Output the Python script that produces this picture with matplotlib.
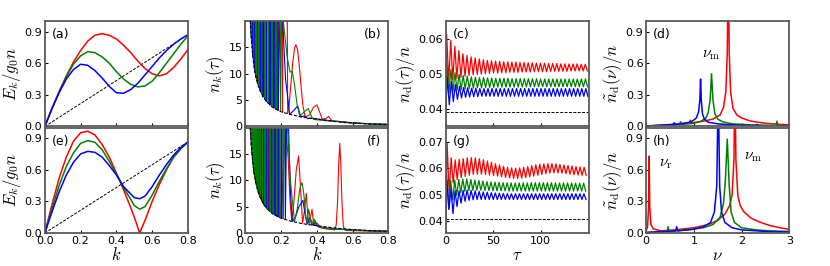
import numpy as np
import matplotlib
matplotlib.use('Agg')
import matplotlib.pyplot as plt
import matplotlib as mpl

mpl.rcParams['mathtext.fontset'] = 'cm'
mpl.rcParams['xtick.direction'] = 'in'
mpl.rcParams['ytick.direction'] = 'in'

# ---------------- (a) / (e): dispersion E_k / g0 n ----------------
k_a = [0, .04, .08, .12, .16, .20, .24, .28, .32, .36, .40, .44, .48, .52, .56, .60, .64, .68, .72, .76, .80]
Ea_red = [0, .17, .33, .48, .61, .72, .81, .865, .88, .865, .83, .77, .70, .62, .55, .50, .48, .50, .56, .64, .73]
Ea_green = [0, .17, .33, .47, .59, .67, .71, .70, .66, .60, .52, .45, .40, .375, .385, .43, .51, .60, .69, .78, .86]
Ea_blue = [0, .17, .32, .45, .54, .59, .58, .53, .46, .38, .32, .315, .35, .41, .49, .57, .65, .72, .78, .83, .87]
free_a = [0, 0.87]

k_e = [0, .04, .08, .12, .16, .20, .24, .28, .32, .36, .40, .44, .48, .50, .53, .56, .60, .64, .68, .72, .76, .80]
Ee_red = [0, .27, .52, .72, .87, .95, .965, .93, .84, .72, .57, .41, .24, .15, 0.0, .12, .30, .46, .60, .72, .80, .864]
Ee_green = [0, .23, .45, .63, .76, .85, .876, .86, .79, .68, .56, .43, .32, .26, .226, .25, .36, .49, .61, .72, .80, .864]
Ee_blue = [0, .20, .39, .55, .67, .75, .774, .765, .72, .64, .55, .44, .37, .335, .325, .35, .44, .55, .65, .74, .81, .864]
free_e = [0, 0.864]
k_free = [0, 0.8]

# ---------------- (b) / (f): momentum distribution n_k(tau) ----------------
k_dash = [0.025, 0.03, 0.035, 0.04, 0.05, 0.06, 0.07, 0.08, 0.1, 0.12, 0.15, 0.2, 0.25, 0.3, 0.35, 0.4, 0.5, 0.6, 0.7, 0.8]
n_dash = [22, 18.7, 16, 14, 11.2, 9.3, 8.0, 7.0, 5.6, 4.7, 3.7, 2.8, 2.3, 1.9, 1.6, 1.4, 0.95, 0.65, 0.45, 0.35]

kb_blue = [0.025, 0.03, 0.036, 0.042, 0.0485, 0.055, 0.062, 0.069, 0.0765, 0.084, 0.092, 0.1, 0.109, 0.118,
           0.128, 0.138, 0.149, 0.16, 0.172, 0.184, 0.196, 0.209, 0.225, 0.248, 0.27, 0.293, 0.31, 0.33,
           0.35, 0.37, 0.4, 0.45, 0.5, 0.6, 0.7, 0.8]
nb_blue = [150, 18.7, 150, 13.3, 150, 10.2, 150, 8.1, 150, 6.7, 150, 5.6, 150, 4.75,
           150, 4.05, 150, 3.5, 150, 3.05, 26, 20, 9, 2.3, 3.0, 3.9, 1.8, 2.0,
           1.5, 1.6, 1.45, 1.2, 1.0, 0.7, 0.5, 0.4]
kb_green = [0.027, 0.033, 0.0395, 0.046, 0.053, 0.06, 0.0675, 0.075, 0.083, 0.091, 0.1, 0.109, 0.1185, 0.128,
            0.1385, 0.149, 0.1605, 0.172, 0.1845, 0.197, 0.205, 0.212, 0.235, 0.25, 0.262, 0.275, 0.29, 0.305,
            0.33, 0.352, 0.375, 0.39, 0.41, 0.45, 0.5, 0.6, 0.7, 0.8]
nb_green = [150, 17, 150, 12.2, 150, 9.3, 150, 7.5, 150, 6.15, 150, 5.15, 150, 4.4,
            150, 3.8, 150, 3.25, 150, 2.85, 26, 20, 13, 10.3, 10.5, 8, 4, 1.9,
            2.8, 3.4, 1.5, 1.3, 1.25, 1.1, 1.0, 0.7, 0.5, 0.4]
kb_red = [0.03, 0.036, 0.043, 0.05, 0.0575, 0.065, 0.073, 0.081, 0.0895, 0.098, 0.1075, 0.117, 0.127, 0.137,
          0.148, 0.159, 0.171, 0.183, 0.1955, 0.208, 0.222, 0.237, 0.245, 0.255, 0.265, 0.275, 0.283, 0.292,
          0.302, 0.312, 0.322, 0.335, 0.36, 0.38, 0.40, 0.415, 0.43, 0.45, 0.466, 0.48, 0.5, 0.52, 0.55,
          0.6, 0.7, 0.8]
nb_red = [150, 15.6, 150, 11.2, 150, 8.6, 150, 6.9, 150, 5.7, 150, 4.8, 150, 4.1,
          150, 3.5, 150, 3.05, 150, 2.7, 120, 2.45, 4, 8, 12, 14.8, 15.5, 14.6,
          11.5, 7.5, 4, 1.8, 2.2, 3.6, 4.1, 2.8, 1.4, 1.5, 1.9, 1.2, 0.95, 1.0, 0.75,
          0.65, 0.48, 0.38]

kf_blue = [0.022, 0.027, 0.0305, 0.034, 0.038, 0.042, 0.046, 0.05, 0.0545, 0.059, 0.064, 0.069, 0.0745, 0.08,
           0.086, 0.092, 0.0985, 0.105, 0.112, 0.119, 0.1265, 0.134, 0.142, 0.15, 0.1585, 0.167, 0.176, 0.185,
           0.1945, 0.204, 0.214, 0.224, 0.234, 0.242, 0.252, 0.263, 0.28, 0.3, 0.322, 0.335, 0.345, 0.362,
           0.375, 0.395, 0.41, 0.45, 0.5, 0.6, 0.7, 0.8]
nf_blue = [150, 20.5, 150, 16.5, 150, 13.3, 150, 11.2, 150, 9.5, 150, 8.1, 150, 7.0,
           150, 6.1, 150, 5.3, 150, 4.7, 150, 4.2, 150, 3.75, 150, 3.35, 150, 3.05,
           150, 2.8, 150, 2.6, 30, 20, 8, 2.2, 3.0, 5.0, 6.2, 3.5, 1.7, 3.0,
           1.5, 1.9, 1.2, 1.0, 0.8, 0.6, 0.45, 0.35]
kf_green = [0.024, 0.029, 0.033, 0.037, 0.041, 0.045, 0.0495, 0.054, 0.0585, 0.063, 0.068, 0.073, 0.0785, 0.084,
            0.09, 0.096, 0.103, 0.11, 0.117, 0.124, 0.1315, 0.139, 0.1475, 0.156, 0.165, 0.174, 0.1835, 0.193,
            0.203, 0.213, 0.222, 0.236, 0.252, 0.275, 0.29, 0.305, 0.317, 0.327, 0.337, 0.345, 0.354, 0.37,
            0.385, 0.395, 0.401, 0.42, 0.45, 0.5, 0.6, 0.7, 0.8]
nf_green = [150, 19.3, 150, 15.1, 150, 12.4, 150, 10.4, 150, 8.9, 150, 7.7, 150, 6.7,
            150, 5.8, 150, 5.1, 150, 4.5, 150, 4.0, 150, 3.6, 150, 3.2, 150, 2.95,
            150, 2.7, 30, 20, 10, 2.2, 4.5, 8.5, 9.6, 7.5, 3.5, 2.0, 4.5, 1.6,
            2.6, 1.6, 1.9, 1.1, 0.9, 0.75, 0.55, 0.42, 0.33]
kf_red = [0.026, 0.031, 0.035, 0.039, 0.0435, 0.048, 0.0525, 0.057, 0.062, 0.067, 0.0725, 0.078, 0.084, 0.09,
          0.0965, 0.103, 0.11, 0.117, 0.1245, 0.132, 0.14, 0.148, 0.1565, 0.165, 0.174, 0.183, 0.189, 0.195,
          0.205, 0.215, 0.228, 0.24, 0.25, 0.26, 0.272, 0.285, 0.298, 0.31, 0.32, 0.33, 0.341, 0.35, 0.357,
          0.365, 0.373, 0.383, 0.392, 0.4, 0.43, 0.47, 0.5, 0.508, 0.516, 0.522, 0.528, 0.534, 0.54, 0.548,
          0.56, 0.6, 0.7, 0.8]
nf_red = [150, 18.2, 150, 14.6, 150, 11.8, 150, 9.9, 150, 8.5, 150, 7.3, 150, 6.3,
          150, 5.5, 150, 4.9, 150, 4.35, 150, 3.9, 150, 3.5, 150, 3.15, 150, 2.9,
          6, 14, 19.6, 14, 6, 2.3, 6, 12, 14.6, 8, 1.9, 4, 7.5, 3, 1.6,
          3, 4.5, 1.5, 2.3, 1.3, 0.9, 0.7, 0.6, 1.5, 6, 13, 17, 13, 6, 1.2,
          0.5, 0.45, 0.35, 0.3]

# ---------------- (c) / (g): depletion n_d(tau)/n ----------------
period_c = 4.3
start_c = 0.039
floor_c = 0.0392
c_red_peaks = [0.0612, 0.0595, 0.0578, 0.0566, 0.0557, 0.0552, 0.0548, 0.0545, 0.0542, 0.0540,
               0.0538, 0.0537, 0.0536, 0.0535, 0.0534, 0.0534, 0.0533, 0.0533, 0.0532, 0.0532,
               0.0531, 0.0531, 0.0530, 0.0530, 0.0530, 0.0529, 0.0529, 0.0529, 0.0528, 0.0528,
               0.0528, 0.0528, 0.0528, 0.0527, 0.0527]
c_red_troughs = [0.0478, 0.0482, 0.0487, 0.0490, 0.0493, 0.0495, 0.0497, 0.0498, 0.0499, 0.0500,
                 0.0501, 0.0502, 0.0502, 0.0503, 0.0503, 0.0504, 0.0504, 0.0504, 0.0505, 0.0505,
                 0.0505, 0.0506, 0.0506, 0.0506, 0.0506, 0.0507, 0.0507, 0.0507, 0.0507, 0.0507,
                 0.0508, 0.0508, 0.0508, 0.0508, 0.0508]
c_green_peaks = [0.0532, 0.0512, 0.0503, 0.0498, 0.0495, 0.0493, 0.0491, 0.0490, 0.0489, 0.0489,
                 0.0488, 0.0488, 0.0487, 0.0487, 0.0487, 0.0487, 0.0486, 0.0486, 0.0486, 0.0486,
                 0.0486, 0.0486, 0.0486, 0.0485, 0.0485, 0.0485, 0.0485, 0.0485, 0.0485, 0.0485,
                 0.0485, 0.0485, 0.0485, 0.0485, 0.0485]
c_green_troughs = [0.0445, 0.0449, 0.0453, 0.0455, 0.0457, 0.0458, 0.0459, 0.0460, 0.0460, 0.0461,
                   0.0461, 0.0461, 0.0462, 0.0462, 0.0462, 0.0462, 0.0462, 0.0462, 0.0462, 0.0463,
                   0.0463, 0.0463, 0.0463, 0.0463, 0.0463, 0.0463, 0.0463, 0.0463, 0.0463, 0.0463,
                   0.0463, 0.0463, 0.0463, 0.0463, 0.0463]
c_blue_peaks = [0.0490, 0.0478, 0.0469, 0.0464, 0.0461, 0.0460, 0.0459, 0.0459, 0.0458, 0.0458,
                0.0458, 0.0458, 0.0458, 0.0458, 0.0458, 0.0458, 0.0458, 0.0458, 0.0458, 0.0458,
                0.0458, 0.0458, 0.0458, 0.0458, 0.0458, 0.0458, 0.0458, 0.0458, 0.0458, 0.0458,
                0.0458, 0.0458, 0.0458, 0.0458, 0.0458]
c_blue_troughs = [0.0412, 0.0421, 0.0427, 0.0431, 0.0433, 0.0434, 0.0435, 0.0435, 0.0436, 0.0436,
                  0.0436, 0.0436, 0.0436, 0.0436, 0.0436, 0.0436, 0.0436, 0.0436, 0.0436, 0.0436,
                  0.0436, 0.0436, 0.0436, 0.0436, 0.0436, 0.0436, 0.0436, 0.0436, 0.0436, 0.0436,
                  0.0436, 0.0436, 0.0436, 0.0436, 0.0436]

period_g = 4.25
start_g = 0.0405
floor_g = 0.0409
g_red_peaks = [0.0695, 0.0640, 0.0632, 0.0634, 0.0637, 0.0640, 0.0641, 0.0640, 0.0637, 0.0633,
               0.0628, 0.0623, 0.0618, 0.0613, 0.0608, 0.0604, 0.0602, 0.0601, 0.0602, 0.0604,
               0.0607, 0.0611, 0.0614, 0.0616, 0.0617, 0.0618, 0.0618, 0.0617, 0.0615, 0.0613,
               0.0611, 0.0609, 0.0607, 0.0605, 0.0604]
g_red_troughs = [0.0505, 0.0545, 0.0558, 0.0565, 0.0570, 0.0574, 0.0577, 0.0578, 0.0578, 0.0577,
                 0.0575, 0.0573, 0.0571, 0.0568, 0.0566, 0.0564, 0.0562, 0.0562, 0.0563, 0.0565,
                 0.0568, 0.0571, 0.0574, 0.0577, 0.0580, 0.0582, 0.0583, 0.0583, 0.0582, 0.0580,
                 0.0578, 0.0576, 0.0575, 0.0574, 0.0574]
g_green_peaks = [0.0575, 0.0555, 0.0556, 0.0558, 0.0560, 0.0560, 0.0558, 0.0556, 0.0554, 0.0552,
                 0.0550, 0.0549, 0.0548, 0.0547, 0.0546, 0.0546, 0.0545, 0.0545, 0.0545, 0.0545,
                 0.0545, 0.0546, 0.0546, 0.0546, 0.0546, 0.0546, 0.0546, 0.0545, 0.0545, 0.0545,
                 0.0545, 0.0545, 0.0544, 0.0544, 0.0544]
g_green_troughs = [0.0445, 0.0480, 0.0498, 0.0508, 0.0513, 0.0516, 0.0517, 0.0517, 0.0517, 0.0516,
                   0.0516, 0.0515, 0.0515, 0.0515, 0.0515, 0.0514, 0.0514, 0.0514, 0.0514, 0.0514,
                   0.0514, 0.0514, 0.0514, 0.0514, 0.0514, 0.0514, 0.0514, 0.0514, 0.0514, 0.0514,
                   0.0514, 0.0514, 0.0514, 0.0514, 0.0514]
g_blue_peaks = [0.0555, 0.0522, 0.0515, 0.0515, 0.0517, 0.0518, 0.0517, 0.0515, 0.0513, 0.0511,
                0.0510, 0.0508, 0.0507, 0.0506, 0.0505, 0.0505, 0.0504, 0.0504, 0.0504, 0.0504,
                0.0504, 0.0504, 0.0504, 0.0504, 0.0504, 0.0504, 0.0504, 0.0504, 0.0504, 0.0504,
                0.0504, 0.0504, 0.0504, 0.0504, 0.0504]
g_blue_troughs = [0.0445, 0.0428, 0.0455, 0.0468, 0.0475, 0.0479, 0.0481, 0.0482, 0.0482, 0.0482,
                  0.0482, 0.0482, 0.0482, 0.0482, 0.0482, 0.0482, 0.0482, 0.0482, 0.0482, 0.0482,
                  0.0482, 0.0482, 0.0482, 0.0482, 0.0482, 0.0482, 0.0482, 0.0482, 0.0482, 0.0482,
                  0.0482, 0.0482, 0.0482, 0.0482, 0.0482]

# ---------------- (d) / (h): spectra ----------------
nu_d_red = [0, 0.3, 0.6, 0.9, 0.93, 0.96, 1.2, 1.4, 1.55, 1.62, 1.67, 1.7, 1.72, 1.74, 1.77, 1.82, 1.9, 2.0, 2.2, 2.5, 2.8, 3.0]
sp_d_red = [0.005, 0.01, 0.02, 0.035, 0.06, 0.035, 0.05, 0.07, 0.11, 0.18, 0.33, 0.7, 1.6, 0.7, 0.33, 0.17, 0.11, 0.08, 0.05, 0.03, 0.02, 0.015]
nu_d_green = [0, 0.3, 0.6, 0.7, 0.72, 0.74, 1.0, 1.15, 1.25, 1.3, 1.34, 1.37, 1.4, 1.44, 1.5, 1.6, 1.8, 2.2, 2.6, 2.72, 2.74, 2.76, 3.0]
sp_d_green = [0.005, 0.01, 0.015, 0.02, 0.045, 0.02, 0.03, 0.05, 0.08, 0.13, 0.25, 0.5, 0.25, 0.12, 0.07, 0.045, 0.025, 0.015, 0.01, 0.01, 0.05, 0.01, 0.008]
nu_d_blue = [0, 0.2, 0.4, 0.57, 0.59, 0.61, 0.8, 0.95, 1.05, 1.1, 1.125, 1.14, 1.155, 1.18, 1.22, 1.3, 1.5, 1.8, 2.2, 2.3, 2.32, 2.34, 2.6, 3.0]
sp_d_blue = [0.005, 0.01, 0.015, 0.02, 0.035, 0.02, 0.03, 0.045, 0.08, 0.14, 0.25, 0.45, 0.25, 0.12, 0.07, 0.04, 0.025, 0.015, 0.01, 0.01, 0.02, 0.01, 0.005, 0.005]

nu_h_red = [0, 0.03, 0.05, 0.063, 0.075, 0.1, 0.15, 0.3, 0.6, 1.0, 1.3, 1.5, 1.65, 1.75, 1.8, 1.84, 1.86, 1.88, 1.92, 1.97, 2.05, 2.2, 2.4, 2.6, 2.8, 3.0]
sp_h_red = [0.02, 0.06, 0.25, 0.73, 0.25, 0.08, 0.04, 0.02, 0.03, 0.05, 0.08, 0.12, 0.18, 0.26, 0.36, 0.7, 1.5, 0.7, 0.36, 0.26, 0.2, 0.14, 0.1, 0.07, 0.05, 0.035]
nu_h_green = [0, 0.2, 0.44, 0.46, 0.48, 0.8, 1.2, 1.4, 1.55, 1.62, 1.66, 1.70, 1.74, 1.78, 1.85, 2.0, 2.3, 2.6, 3.0]
sp_h_green = [0.005, 0.01, 0.015, 0.06, 0.015, 0.03, 0.05, 0.08, 0.15, 0.28, 0.5, 0.89, 0.45, 0.2, 0.1, 0.05, 0.03, 0.02, 0.015]
nu_h_blue = [0, 0.2, 0.62, 0.64, 0.66, 1.0, 1.2, 1.35, 1.43, 1.48, 1.51, 1.54, 1.58, 1.65, 1.8, 2.0, 2.5, 3.0]
sp_h_blue = [0.005, 0.01, 0.02, 0.06, 0.02, 0.035, 0.06, 0.1, 0.2, 0.45, 1.4, 0.45, 0.2, 0.1, 0.05, 0.03, 0.015, 0.01]


def zigzag(t0, period, peaks, troughs, start):
    t, y = [0.0], [start]
    for i, (p, q) in enumerate(zip(peaks, troughs)):
        t += [t0 + i * period, t0 + (i + 0.5) * period]
        y += [p, q]
    return t, y


fig, axs = plt.subplots(2, 4, figsize=(8.3, 2.66), dpi=100, sharex='col')
fig.subplots_adjust(left=0.054, right=0.951, top=0.921, bottom=0.124, wspace=0.4, hspace=0.01)

lw = 1.1
cols = ['red', 'green', 'blue']

# (a), (e)
for ax, k, curves, fr in [(axs[0, 0], k_a, [Ea_red, Ea_green, Ea_blue], free_a),
                          (axs[1, 0], k_e, [Ee_red, Ee_green, Ee_blue], free_e)]:
    ax.plot(k_free, fr, color='k', ls='--', lw=0.7, dashes=(3, 1.5))
    for c, y in zip(cols, curves):
        ax.plot(k, y, color=c, lw=lw)
    ax.set_xlim(0, 0.8)
    ax.set_ylim(0, 1.0)
    ax.set_yticks([0.0, 0.3, 0.6, 0.9])
    ax.set_ylabel(r'$E_k/g_0n$', fontsize=12, labelpad=1)
axs[1, 0].set_xticks([0.0, 0.2, 0.4, 0.6, 0.8])

# (b), (f)
for ax, curves in [(axs[0, 1], [(kb_red, nb_red), (kb_blue, nb_blue), (kb_green, nb_green)]),
                   (axs[1, 1], [(kf_red, nf_red), (kf_blue, nf_blue), (kf_green, nf_green)])]:
    ax.plot(k_dash, n_dash, color='k', ls='--', lw=0.8, dashes=(3, 1.5), zorder=5)
    for c, (k, n) in zip(['red', 'blue', 'green'], curves):
        ax.plot(k, n, color=c, lw=0.8)
    ax.set_xlim(0, 0.8)
    ax.set_ylim(0, 20)
    ax.set_yticks([0, 5, 10, 15])
    ax.set_ylabel(r'$n_k(\tau)$', fontsize=12, labelpad=1)
axs[1, 1].set_xticks([0.0, 0.2, 0.4, 0.6, 0.8])

# (c)
ax = axs[0, 2]
for c, (t0, pk, tr) in zip(cols, [(1.0, c_red_peaks, c_red_troughs),
                                  (1.2, c_green_peaks, c_green_troughs),
                                  (1.6, c_blue_peaks, c_blue_troughs)]):
    t, y = zigzag(t0, period_c, pk, tr, start_c)
    ax.plot(t, y, color=c, lw=0.9)
ax.axhline(floor_c, color='k', ls='--', lw=0.7, dashes=(3, 1.5))
ax.set_ylim(0.035, 0.065)
ax.set_yticks([0.04, 0.05, 0.06])
ax.set_ylabel(r'$n_\mathrm{d}(\tau)/n$', fontsize=12, labelpad=1)

# (g)
ax = axs[1, 2]
for c, (t0, pk, tr) in zip(cols, [(1.5, g_red_peaks, g_red_troughs),
                                  (1.0, g_green_peaks, g_green_troughs),
                                  (1.3, g_blue_peaks, g_blue_troughs)]):
    t, y = zigzag(t0, period_g, pk, tr, start_g)
    ax.plot(t, y, color=c, lw=0.9)
ax.axhline(floor_g, color='k', ls='--', lw=0.7, dashes=(3, 1.5))
ax.set_ylim(0.0355, 0.0755)
ax.set_yticks([0.04, 0.05, 0.06, 0.07])
ax.set_ylabel(r'$n_\mathrm{d}(\tau)/n$', fontsize=12, labelpad=1)
ax.set_xlim(0, 151)
ax.set_xticks([0, 50, 100])

# (d), (h)
for ax, curves in [(axs[0, 3], [(nu_d_red, sp_d_red), (nu_d_green, sp_d_green), (nu_d_blue, sp_d_blue)]),
                   (axs[1, 3], [(nu_h_red, sp_h_red), (nu_h_green, sp_h_green), (nu_h_blue, sp_h_blue)])]:
    for c, (nu, s) in zip(cols, curves):
        ax.plot(nu, s, color=c, lw=lw)
    ax.set_xlim(0, 3)
    ax.set_ylim(0, 1.0)
    ax.set_yticks([0.0, 0.3, 0.6, 0.9])
    ax.set_ylabel(r'$\tilde{n}_\mathrm{d}(\nu)/n$', fontsize=12, labelpad=1)
axs[1, 3].set_xticks([0, 1, 2, 3])
axs[0, 3].text(1.37, 0.68, r'$\nu_\mathrm{m}$', fontsize=11, ha='center', va='center')
axs[1, 3].text(0.42, 0.66, r'$\nu_\mathrm{r}$', fontsize=11, ha='center', va='center')
axs[1, 3].text(2.25, 0.73, r'$\nu_\mathrm{m}$', fontsize=11, ha='center', va='center')

axs[1, 0].set_xlabel(r'$k$', fontsize=12, labelpad=0)
axs[1, 1].set_xlabel(r'$k$', fontsize=12, labelpad=0)
axs[1, 2].set_xlabel(r'$\tau$', fontsize=12, labelpad=0)
axs[1, 3].set_xlabel(r'$\nu$', fontsize=12, labelpad=0)

labels = ['(a)', '(b)', '(c)', '(d)', '(e)', '(f)', '(g)', '(h)']
for i, ax in enumerate(axs.flat):
    right = (i % 4 == 1)
    ax.text(0.95 if right else 0.05, 0.93, labels[i], transform=ax.transAxes,
            ha='right' if right else 'left', va='top', fontsize=9)
    ax.tick_params(labelsize=8, length=2.5, width=0.8)
    ax.tick_params(axis='x', pad=2.5)
    ax.tick_params(axis='y', pad=2)
    for s in ax.spines.values():
        s.set_color('0.35')
        s.set_linewidth(1.3)

fig.savefig('out.png', dpi=100)
